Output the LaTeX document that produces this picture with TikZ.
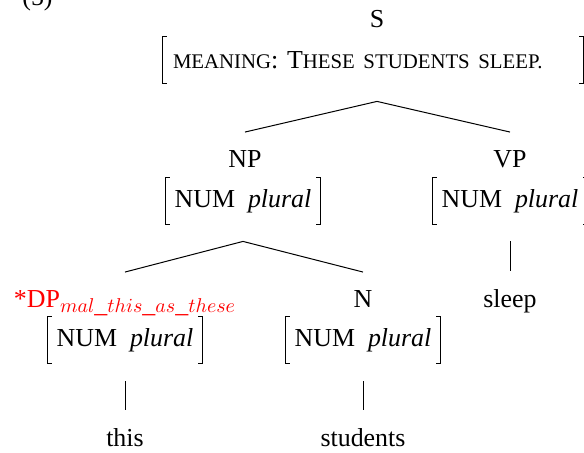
\documentclass[tikz,border=0pt]{standalone}
\usepackage{fontspec}
\setmainfont{Liberation Serif}
\usetikzlibrary{calc}
\DeclareMathSizes{12.95}{12.95}{10.2}{7.5}
\newcommand{\fakesc}[1]{{\fontsize{10.4}{12}\selectfont #1}}
\newcommand{\avmbrackets}[1]{%
  \draw[brk] ([xshift=2pt]#1.north west) -- (#1.north west) -- (#1.south west) -- ([xshift=2pt]#1.south west);
  \draw[brk] ([xshift=-2pt]#1.north east) -- (#1.north east) -- (#1.south east) -- ([xshift=-2pt]#1.south east);}
\tikzset{
  cat/.style={anchor=base, inner xsep=2pt, inner ysep=8.8pt},
  avm/.style={minimum width=77pt, minimum height=23pt, inner sep=0pt},
  brk/.style={line width=0.45pt},
  branch/.style={line width=0.5pt},
}

\begin{document}
\begin{tikzpicture}[x=0.5pt, y=-0.5pt, font=\fontsize{12.95}{15.5}\selectfont]
  \useasboundingbox (0,0) rectangle (584,452);

  %% example number (cut off at the top)
  \node[cat, anchor=base west] (exnum) at (18,5) {(5)};

  %% ROOT
  \node[cat] (s) at (377,27) {S};
  \node[avm, minimum width=210pt, text width=200pt, align=left] (smean) at (373,60)
       {\fakesc{MEANING}: T\fakesc{HESE STUDENTS SLEEP.}};
  \avmbrackets{smean}

  %% NP and VP
  \node[cat] (np) at (245,167) {NP};
  \node[avm] (npf) at (243,201) {NUM\ \ \textit{plural}};
  \avmbrackets{npf}
  \node[cat] (vp) at (510,167) {VP};
  \node[avm] (vpf) at (510,201) {NUM\ \ \textit{plural}};
  \avmbrackets{vpf}

  \draw[branch] ($(s |- smean.south)+(0,18)$) -- (np.north);
  \draw[branch] ($(s |- smean.south)+(0,18)$) -- (vp.north);

  %% DP, N and the verb
  \node[cat, text=red] (dp) at (125,307) {*DP$_{mal\_this\_as\_these}$};
  \node[avm] (dpf) at (125,340) {NUM\ \ \textit{plural}};
  \avmbrackets{dpf}
  \node[cat] (n) at (363,307) {N};
  \node[avm] (nf) at (363,340) {NUM\ \ \textit{plural}};
  \avmbrackets{nf}
  \node[cat] (sleep) at (510,307) {sleep};

  \draw[branch] ([yshift=-8.5pt]npf.south) -- (dp.north);
  \draw[branch] ([yshift=-8.5pt]npf.south) -- (n.north);
  \draw[branch] ([yshift=-8.5pt]vpf.south) -- (sleep.north);

  %% words
  \node[cat] (this) at (125,446) {this};
  \node[cat] (students) at (363,446) {students};

  \draw[branch] ([yshift=-9pt]dpf.south) -- (this.north);
  \draw[branch] ([yshift=-9pt]nf.south) -- (students.north);

\end{tikzpicture}
\end{document}
